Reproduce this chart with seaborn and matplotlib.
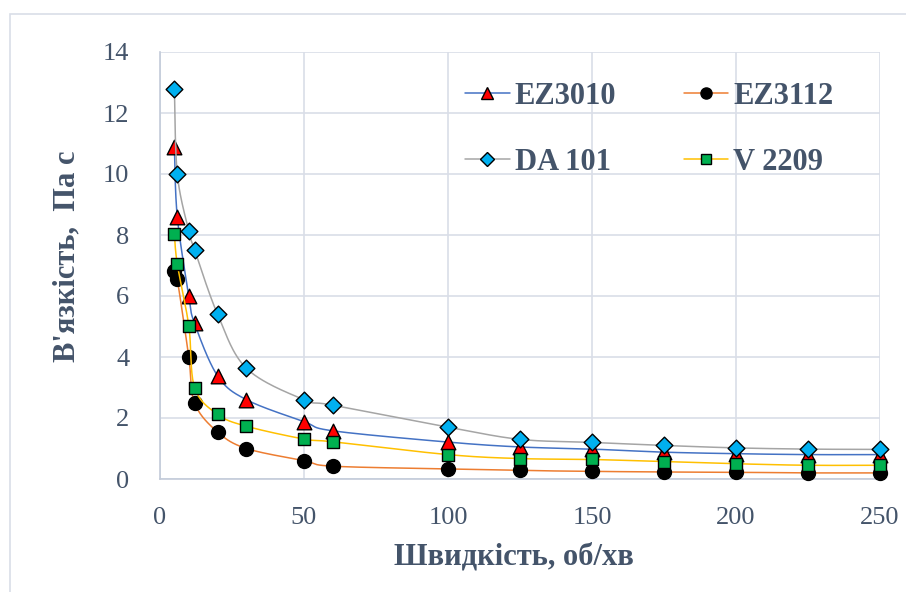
import numpy as np
import pandas as pd
import matplotlib
matplotlib.use("Agg")
import matplotlib.pyplot as plt
from matplotlib.lines import Line2D
from matplotlib.patches import Rectangle
import seaborn as sns

sns.set_style("white")
plt.rcParams['font.family'] = ['Liberation Serif', 'DejaVu Serif']

speed = [5, 6, 10, 12, 20, 30, 50, 60, 100, 125, 150, 175, 200, 225, 250]
ez3010 = [10.88, 8.6, 6.0, 5.1, 3.38, 2.6, 1.88, 1.58, 1.21, 1.05, 0.98, 0.88, 0.83, 0.8, 0.8]
ez3112 = [6.82, 6.55, 4.0, 2.49, 1.54, 1.0, 0.6, 0.42, 0.33, 0.28, 0.25, 0.23, 0.22, 0.2, 0.2]
da101 = [12.8, 10.0, 8.13, 7.52, 5.4, 3.63, 2.6, 2.42, 1.7, 1.3, 1.2, 1.1, 1.02, 0.98, 0.97]
v2209 = [8.03, 7.05, 5.02, 3.0, 2.12, 1.73, 1.31, 1.22, 0.8, 0.67, 0.64, 0.57, 0.5, 0.45, 0.45]

names = ["EZ3010", "EZ3112", "DA 101", "V 2209"]
series = [ez3010, ez3112, da101, v2209]
line_colors = ["#4472C4", "#ED7D31", "#A5A5A5", "#FFC000"]
marker_faces = ["#FF0000", "#000000", "#00B0F0", "#00B050"]
marker_shapes = ["^", "o", "D", "s"]
marker_sizes = [10.5, 10, 8.5, 9]

xticks = [0, 50, 100, 150, 200, 250]
yticks = [0, 2, 4, 6, 8, 10, 12, 14]


def smooth(x, y, n=30):
    x = np.asarray(x, float)
    y = np.asarray(y, float)
    P = np.column_stack([x, y])
    P = np.vstack([P[0], P, P[-1]])
    out = []
    t = np.linspace(0, 1, n)[:, None]
    for i in range(1, len(P) - 2):
        p0, p1, p2, p3 = P[i - 1], P[i], P[i + 1], P[i + 2]
        c1 = p1 + (p2 - p0) / 6.0
        c2 = p2 - (p3 - p1) / 6.0
        seg = ((1 - t) ** 3) * p1 + 3 * ((1 - t) ** 2) * t * c1 + 3 * (1 - t) * t ** 2 * c2 + t ** 3 * p2
        out.append(seg)
    out = np.vstack(out)
    return out[:, 0], out[:, 1]


fig = plt.figure(figsize=(9.06, 5.92), dpi=100)
ax = fig.add_axes([160 / 906, 1 - 479 / 592, 720 / 906, 427 / 592])

fig.patches.append(Rectangle((10 / 906, -0.1), 1.2, 1 - 14 / 592 + 0.1, transform=fig.transFigure,
                             fill=False, edgecolor="#D9DEE8", linewidth=1.2))

grid_c = "#D9DEE8"
for i, (nm, vals) in enumerate(zip(names, series)):
    sx, sy = smooth(speed, vals)
    df_line = pd.DataFrame({"x": sx, "y": sy})
    sns.lineplot(data=df_line, x="x", y="y", sort=False, estimator=None, ax=ax,
                 color=line_colors[i], linewidth=1.1, zorder=3 + i * 2)
    df_pts = pd.DataFrame({"x": speed, "y": vals})
    sns.scatterplot(data=df_pts, x="x", y="y", ax=ax, marker=marker_shapes[i],
                    s=marker_sizes[i] ** 2, color=marker_faces[i], edgecolor="black",
                    linewidth=1.0, zorder=4 + i * 2, clip_on=False)

ax.set_xlim(0, 250)
ax.set_ylim(0, 14)
ax.set_xticks(xticks)
ax.set_yticks(yticks)
ax.grid(True, color=grid_c, linewidth=1.2)
ax.set_axisbelow(True)
for s in ["top", "right"]:
    ax.spines[s].set_visible(False)
for s in ["left", "bottom"]:
    ax.spines[s].set_color("#C3CBD9")
    ax.spines[s].set_linewidth(1.2)
ax.tick_params(axis="both", length=0, labelsize=19, labelcolor="#44546A")
ax.tick_params(axis="y", pad=22)
ax.tick_params(axis="x", pad=20)
ax.set_xlabel("")
ax.set_ylabel("")

fig.text(67 / 906, 1 - 256 / 592, "В'язкість,  Па с", rotation=90, ha="center", va="center",
         fontsize=22, fontweight="bold", color="#44546A")
fig.text(514 / 906, 1 - 557 / 592, "Швидкість, об/хв", ha="center", va="center",
         fontsize=22, fontweight="bold", color="#44546A")

handles = [Line2D([0], [0], color=line_colors[i], linewidth=1.1, marker=marker_shapes[i],
                  markerfacecolor=marker_faces[i], markeredgecolor="black",
                  markersize=marker_sizes[i] * 0.8) for i in range(4)]
order = [0, 2, 1, 3]
leg = ax.legend([handles[k] for k in order], [names[k] for k in order], ncol=2,
                loc="upper left", bbox_to_anchor=(0.424, 0.93),
                frameon=False, prop={"size": 22, "weight": "bold"}, handlelength=1.45,
                handletextpad=0.17, columnspacing=2.2, labelspacing=1.2, borderpad=0,
                borderaxespad=0)
for t in leg.get_texts():
    t.set_color("#44546A")

fig.savefig("out.png", dpi=100)
